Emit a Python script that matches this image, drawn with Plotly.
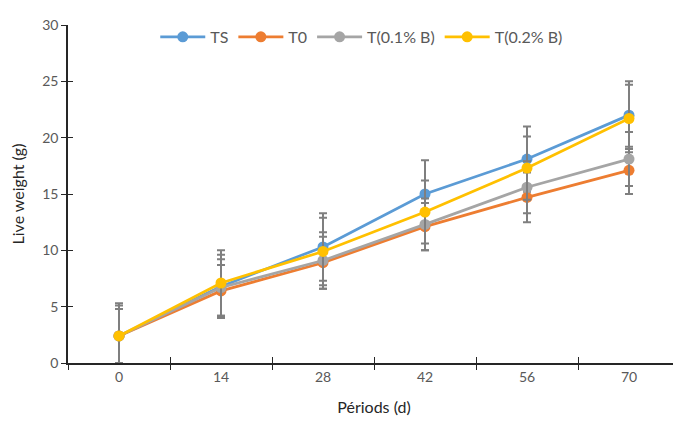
import plotly.graph_objects as go

periods = ["0", "14", "28", "42", "56", "70"]
series_names = ["TS", "T0", "T(0.1% B)", "T(0.2% B)"]
ts = [2.4, 6.8, 10.3, 15.0, 18.1, 22.0]
t0 = [2.4, 6.4, 8.9, 12.1, 14.7, 17.1]
t01 = [2.4, 6.7, 9.1, 12.3, 15.6, 18.1]
t02 = [2.4, 7.1, 9.9, 13.4, 17.3, 21.7]
err_ts = [2.9, 2.8, 3.0, 3.0, 2.9, 3.0]
err_t0 = [2.4, 2.3, 2.3, 2.1, 2.2, 2.1]
err_t01 = [2.4, 2.5, 2.5, 2.3, 2.3, 2.4]
err_t02 = [2.7, 2.9, 3.0, 2.8, 2.8, 3.0]
colors = ["#5B9BD5", "#ED7D31", "#A5A5A5", "#FFC000"]

values = [ts, t0, t01, t02]
errors = [err_ts, err_t0, err_t01, err_t02]

fig = go.Figure()
for name, vals, errs, col in zip(series_names, values, errors, colors):
    fig.add_trace(go.Scatter(
        x=periods, y=vals, name=name, mode="lines+markers",
        line=dict(color=col, width=2.75),
        marker=dict(color=col, size=11),
        error_y=dict(type="data", array=errs, visible=True,
                     color="#7F7F7F", thickness=2, width=4),
    ))

font = "Lato, Open Sans, sans-serif"
fig.update_layout(
    width=673, height=415,
    margin=dict(l=60, r=1, t=17, b=60, autoexpand=False),
    paper_bgcolor="white", plot_bgcolor="white",
    font=dict(family=font, size=14, color="#595959"),
    showlegend=True,
    legend=dict(orientation="h", x=0.48, xanchor="center", y=1.015, yanchor="top",
                font=dict(size=16, color="#595959"), itemwidth=45,
                bgcolor="rgba(0,0,0,0)"),
    xaxis=dict(type="category", categoryorder="array", categoryarray=periods,
               range=[-0.5, 5.5], tickson="boundaries", ticks="outside",
               ticklen=5, tickcolor="#262626", showline=True, linecolor="#262626",
               linewidth=1.5, showgrid=False, zeroline=False, automargin=False,
               title=dict(text="Périods (d)", font=dict(size=16, color="#262626"),
                          standoff=18)),
    yaxis=dict(range=[0, 30], dtick=5, ticks="outside", ticklen=5,
               tickcolor="#262626", showline=True, linecolor="#262626",
               linewidth=1.5, showgrid=False, zeroline=False, automargin=False,
               title=dict(text="Live weight (g)", font=dict(size=16, color="#262626"),
                          standoff=14)),
    xaxis2=dict(type="category", categoryorder="array", categoryarray=periods,
                range=[-0.5, 5.5], overlaying="x", tickson="boundaries",
                ticks="inside", ticklen=6, tickcolor="#262626",
                showticklabels=False, showgrid=False, zeroline=False,
                showline=False, side="bottom", anchor="y"),
    yaxis2=dict(range=[0, 30], dtick=5, overlaying="y", ticks="inside", ticklen=5,
                tickcolor="#262626", showticklabels=False, showgrid=False,
                zeroline=False, showline=False, side="left", anchor="x"),
)
fig.add_trace(go.Scatter(x=periods, y=[None]*6, xaxis="x2", yaxis="y2",
                         showlegend=False, hoverinfo="skip"))

fig.write_html("out.html")
